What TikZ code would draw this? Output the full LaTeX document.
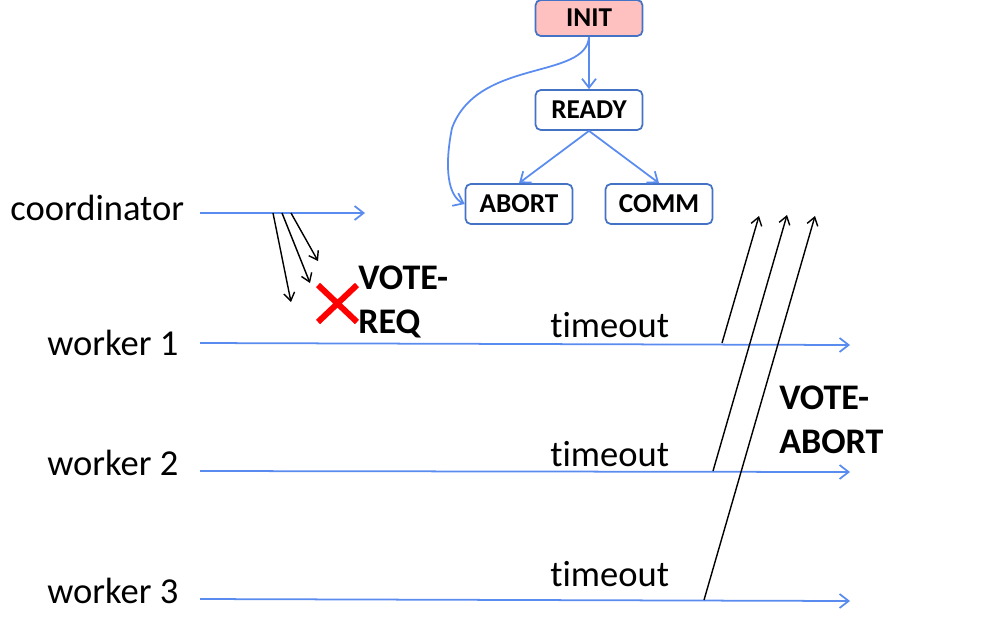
\documentclass[tikz,border=0pt]{standalone}
\usepackage{fontspec}
\setmainfont{Carlito}[Ligatures=NoCommon]
\usetikzlibrary{arrows.meta,positioning}
\definecolor{linecolor}{RGB}{90,140,240}
\definecolor{boxcolor}{RGB}{68,114,196}
\definecolor{initcolor}{RGB}{255,192,192}
\tikzset{
  state box/.style={
    rectangle,
    rounded corners=3pt,
    draw=boxcolor,
    fill=white,
    line width=1pt,
    minimum width=2.14cm,
    minimum height=0.8cm,
    inner sep=0pt,
    font=\fontsize{15.5}{18}\selectfont\bfseries
  },
  init box/.style={
    state box,
    fill=initcolor,
    minimum height=0.72cm
  },
  blue arrow/.style={
    draw=linecolor,
    line width=1pt,
    -{Straight Barb[length=1.8mm,width=2.8mm]}
  },
  msg arrow/.style={
    draw=black,
    line width=0.8pt,
    -{Straight Barb[length=1.6mm,width=2.2mm]}
  },
  proc text/.style={
    font=\fontsize{20.8}{25}\selectfont,
    anchor=base west,
    inner sep=0pt
  },
  msg text/.style={
    proc text,
    font=\fontsize{20.5}{24.5}\selectfont\bfseries,
    align=left
  }
}

\begin{document}
\begin{tikzpicture}[x=0.02cm, y=-0.02cm]
  \useasboundingbox (0,0) rectangle (1003,630);

  % State machine of a worker
  \node[init box] (init) at (589,18) {INIT};
  \node[state box] (ready) at (589,110) {READY};
  \node[state box] (abort) at (519,204) {ABORT};
  \node[state box] (comm) at (659,204) {COMM};

  \draw[blue arrow] (init.south) -- (ready.north);
  \draw[blue arrow] (ready.south) -- (abort.north);
  \draw[blue arrow] (ready.south) -- (comm.north);
  \draw[blue arrow] (init.south) .. controls (586,80) and (478,58) .. (452,128)
    .. controls (444,168) and (448,196) .. (abort.west);

  % Process names
  \node[proc text] (coordname) at (10,220) {coordinator};
  \node[proc text] (w1name) at (47,355) {worker 1};
  \node[proc text] (w2name) at (47,475) {worker 2};
  \node[proc text] (w3name) at (47,603) {worker 3};

  % Time lines
  \coordinate (c0) at (200,213);
  \coordinate (c1) at (365,213);
  \coordinate (w1s) at (200,343);
  \coordinate (w1e) at (850,345);
  \coordinate (w2s) at (200,471);
  \coordinate (w2e) at (850,472);
  \coordinate (w3s) at (200,599);
  \coordinate (w3e) at (850,601);
  \draw[blue arrow] (c0) -- (c1);
  \draw[blue arrow] (w1s) -- (w1e);
  \draw[blue arrow] (w2s) -- (w2e);
  \draw[blue arrow] (w3s) -- (w3e);

  % VOTE-REQ, lost
  \coordinate (r1) at (273,213);
  \coordinate (r2) at (282,213);
  \coordinate (r3) at (291,213);
  \coordinate (q1) at (291,302);
  \coordinate (q2) at (310,283);
  \coordinate (q3) at (318,261);
  \draw[msg arrow] (r1) -- (q1);
  \draw[msg arrow] (r2) -- (q2);
  \draw[msg arrow] (r3) -- (q3);
  \draw[red, line width=3.4pt] (318,285) -- (357,322) (357,285) -- (318,322);
  \node[msg text] (votereq) at (358,333) {VOTE-\\REQ};

  % timeouts and VOTE-ABORT
  \node[proc text] (to1) at (550,337) {timeout};
  \node[proc text] (to2) at (550,466) {timeout};
  \node[proc text] (to3) at (550,586) {timeout};
  \coordinate (v1) at (722,343);
  \coordinate (v2) at (713,471);
  \coordinate (v3) at (704,600);
  \coordinate (a1) at (759,216);
  \coordinate (a2) at (787,215);
  \coordinate (a3) at (815,216);
  \draw[msg arrow] (v1) -- (a1);
  \draw[msg arrow] (v2) -- (a2);
  \draw[msg arrow] (v3) -- (a3);
  \node[msg text] (voteabort) at (779,453) {VOTE-\\ABORT};
\end{tikzpicture}
\end{document}
